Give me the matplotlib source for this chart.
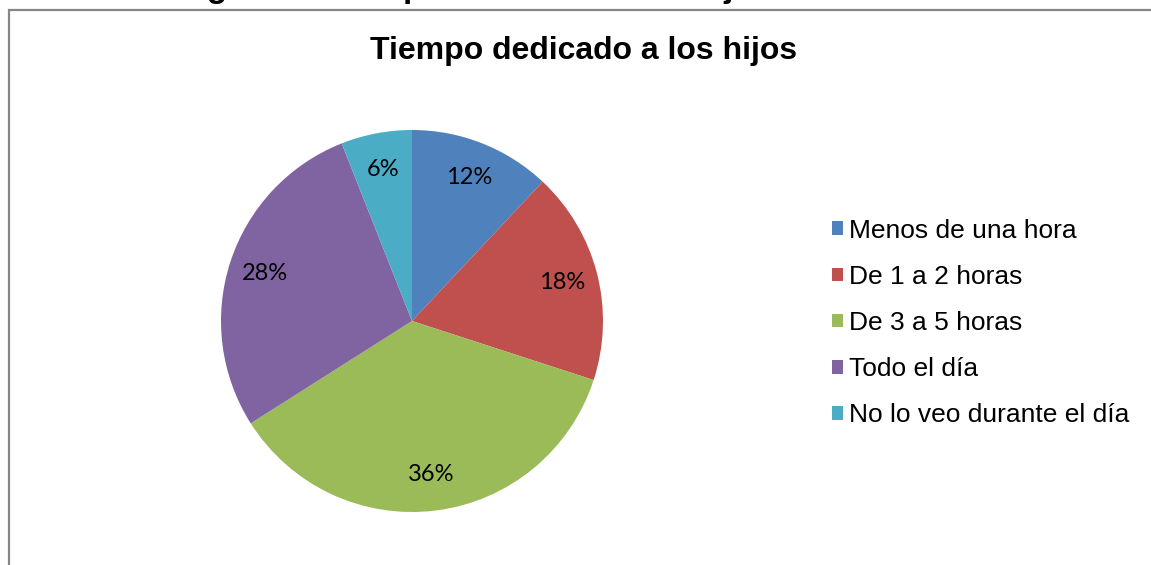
import matplotlib.pyplot as plt
from matplotlib.patches import Patch, Rectangle

categories = ["Menos de una hora", "De 1 a 2 horas", "De 3 a 5 horas",
              "Todo el día", "No lo veo durante el día"]
values = [12, 18, 36, 28, 6]
colors = ["#4F81BD", "#C0504D", "#9BBB59", "#8064A2", "#4BACC6"]
title = "Tiempo dedicado a los hijos"
# guessed wording: only the bottoms of g, p and j show in the reference
caption = "Figura 5. Tiempo dedicado a los hijos"

W, H = 1151, 565
fig = plt.figure(figsize=(W / 100, H / 100), dpi=100)
fig.patch.set_facecolor("white")

# caption line above the chart, mostly cut off by the top edge
fig.text(177 / W, 1 + 3 / H, caption, fontsize=24, fontweight="bold",
         family="Liberation Sans", ha="left", va="baseline")

# chart frame (right and bottom run off the image)
fig.add_artist(Rectangle((8.5 / W, -0.1), 1.2, (H - 9.5) / H + 0.1,
                         transform=fig.transFigure, fill=False,
                         edgecolor="#868686", linewidth=1.6))

fig.text(584 / W, 1 - 51 / H, title, fontsize=23, fontweight="bold",
         family="Liberation Sans", ha="center", va="center")

cx, cy, r = 412, 321, 191
ax = fig.add_axes([(cx - r) / W, (H - cy - r) / H, 2 * r / W, 2 * r / H])
wedges, texts, autotexts = ax.pie(values, colors=colors, startangle=90,
                                  counterclock=False, autopct="%1.0f%%",
                                  pctdistance=0.81, radius=1,
                                  wedgeprops=dict(linewidth=0))
for t in autotexts:
    t.set_fontsize(17)
    t.set_family("Lato")
    t.set_color("black")
ax.set_xlim(-1, 1)
ax.set_ylim(-1, 1)
ax.axis("off")

handles = [Patch(facecolor=c, edgecolor="none") for c in colors]
fig.legend(handles, categories, loc="center left",
           bbox_to_anchor=(808 / W, 1 - 323 / H), frameon=False,
           prop=dict(family="Liberation Sans", size=19),
           handlelength=0.42, handleheight=0.42, handletextpad=0.22,
           labelspacing=0.84)

fig.savefig("out.png", dpi=100)
